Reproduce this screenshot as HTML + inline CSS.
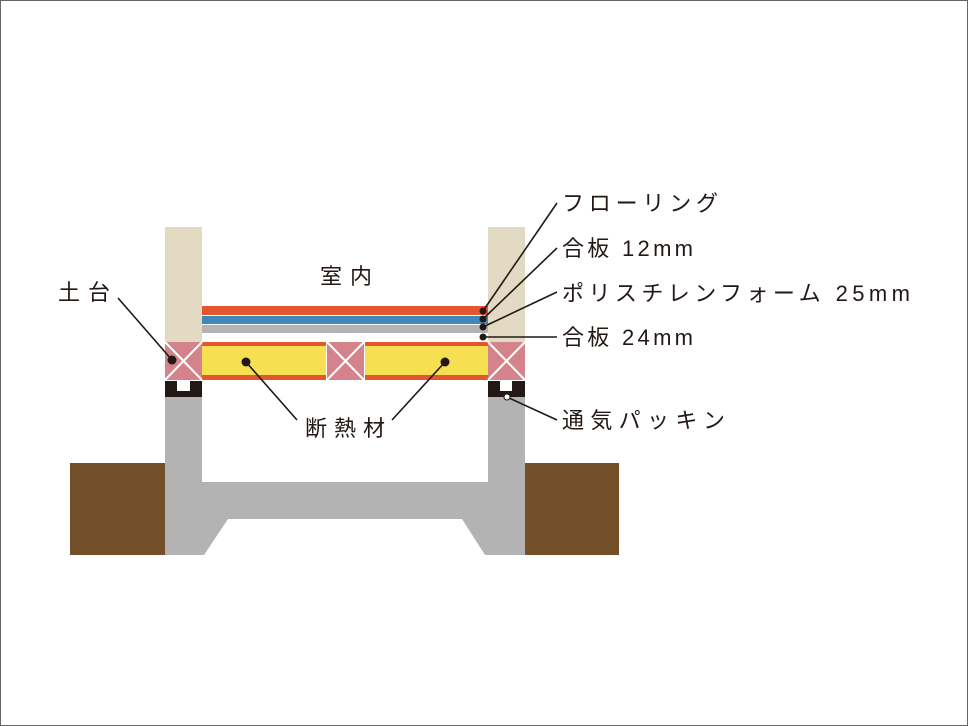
<!DOCTYPE html>
<html><head><meta charset="utf-8"><style>
html,body{margin:0;padding:0;background:#fff}
svg{display:block}
text{font-family:"Liberation Sans","Noto Sans CJK JP",sans-serif;font-size:22px;fill:#231815}
</style></head><body>
<svg width="968" height="726" viewBox="0 0 968 726" xmlns="http://www.w3.org/2000/svg">
<rect x="0.5" y="0.5" width="967" height="725" fill="#fff" stroke="#666" stroke-width="1"/>
<!-- ground -->
<rect x="70" y="463" width="95" height="92" fill="#74502a"/>
<rect x="525" y="463" width="94" height="92" fill="#74502a"/>
<!-- foundation -->
<path d="M165 397 H202 V482 H488 V397 H525 V555 H485 L462 519 H228 L204 555 H165 Z" fill="#b3b3b3"/>
<!-- posts -->
<rect x="165" y="227" width="37" height="115" fill="#e2dac3"/>
<rect x="488" y="227" width="37" height="115" fill="#e2dac3"/>
<!-- floor layers -->
<rect x="202" y="306" width="286" height="9" fill="#e45630"/>
<rect x="202" y="316" width="286" height="8" fill="#3f89ba"/>
<rect x="202" y="325" width="286" height="8" fill="#b3b3b3"/>
<!-- joists band -->
<rect x="202" y="342" width="286" height="38" fill="#e45630"/>
<rect x="202" y="346" width="286" height="29" fill="#f6e052"/>
<!-- pink blocks -->
<g stroke="#fff" stroke-width="2">
<rect x="165" y="342" width="37" height="38" fill="#d5838a" stroke="none"/>
<line x1="165" y1="342" x2="202" y2="380"/><line x1="202" y1="342" x2="165" y2="380"/>
<rect x="327" y="342" width="37" height="38" fill="#d5838a" stroke="none"/>
<line x1="327" y1="342" x2="364" y2="380"/><line x1="364" y1="342" x2="327" y2="380"/>
<rect x="488" y="342" width="37" height="38" fill="#d5838a" stroke="none"/>
<line x1="488" y1="342" x2="525" y2="380"/><line x1="525" y1="342" x2="488" y2="380"/>
</g>
<line x1="326.5" y1="342" x2="326.5" y2="380" stroke="#fff"/><line x1="364.5" y1="342" x2="364.5" y2="380" stroke="#fff"/>
<!-- packing -->
<rect x="165" y="381" width="37" height="16" fill="#231815"/>
<rect x="177" y="381" width="13" height="10" fill="#fff"/>
<rect x="488" y="381" width="37" height="16" fill="#231815"/>
<rect x="500" y="381" width="12" height="10" fill="#fff"/>
<!-- leaders -->
<g stroke="#231815" stroke-width="1.6" fill="none">
<line x1="483" y1="311" x2="557" y2="203"/>
<line x1="483" y1="319" x2="557" y2="248"/>
<line x1="483" y1="327" x2="557" y2="292"/>
<line x1="483" y1="337" x2="557" y2="337"/>
<line x1="507" y1="397" x2="557" y2="420"/>
<line x1="118" y1="298" x2="172" y2="360"/>
<line x1="246" y1="362" x2="297" y2="420"/>
<line x1="445" y1="362" x2="392" y2="420"/>
</g>
<g fill="#231815">
<circle cx="483" cy="311" r="3.5"/><circle cx="483" cy="319" r="3.5"/>
<circle cx="483" cy="327" r="3.5"/><circle cx="483" cy="337" r="3.5"/>
<circle cx="172" cy="360" r="4.5"/><circle cx="246" cy="362" r="4.5"/><circle cx="445" cy="362" r="4.5"/>
</g>
<circle cx="507" cy="397" r="3" fill="#fff" stroke="#231815" stroke-width="1"/>
<!-- labels -->
<text x="320" y="284" textLength="52" lengthAdjust="spacing">室内</text>
<text x="58" y="300" textLength="52" lengthAdjust="spacing">土台</text>
<text x="305" y="436" textLength="80" lengthAdjust="spacing">断熱材</text>
<text x="562" y="211" textLength="156" lengthAdjust="spacing">フローリング</text>
<text x="562" y="256" textLength="131" lengthAdjust="spacing">合板 12mm</text>
<text x="562" y="301" textLength="348" lengthAdjust="spacing">ポリスチレンフォーム 25mm</text>
<text x="562" y="345" textLength="131" lengthAdjust="spacing">合板 24mm</text>
<text x="562" y="428" textLength="163" lengthAdjust="spacing">通気パッキン</text>
</svg>
</body></html>
